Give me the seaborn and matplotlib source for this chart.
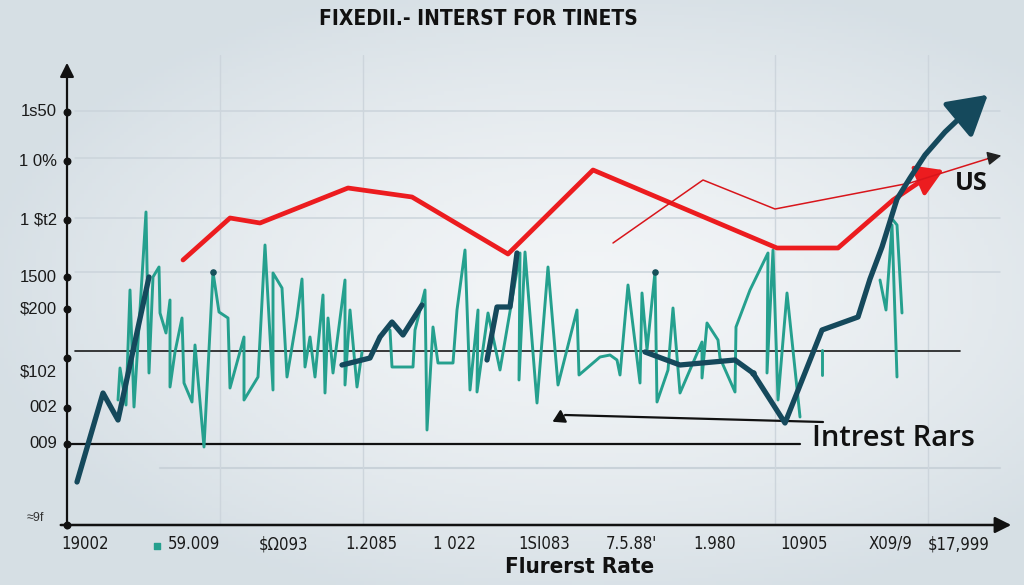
import numpy as np
import pandas as pd
import matplotlib
matplotlib.use('Agg')
import matplotlib.pyplot as plt
import seaborn as sns

# ---- data (x = period position, y = rate level) ----
teal_x = [118, 120, 126, 130, 134, 146, 149, 153, 159, 160, 166, 170, 170, 175, 182, 184, 192, 195,
          204, 213, 219, 228, 230, 244, 244, 258, 265, 273, 273, 282, 287, 297, 302, 305, 310, 315,
          323, 325, 328, 333, 345, 345, 350, 357, 362,
          390, 392, 413, 415, 425, 427, 433, 438, 453, 457, 465, 470, 478, 477, 488, 500, 520, 519,
          525, 537, 548, 558, 577, 579, 600, 610, 617, 620, 628, 640, 642, 647, 655, 657, 668, 673,
          680, 702, 702, 707, 718, 720, 735, 736, 750, 768, 767, 773, 778, 787, 800,
          822, 822,
          880, 886, 892, 897,
          893, 897, 902]
teal_y = [125, 157, 120, 235, 118, 313, 152, 248, 258, 212, 192, 225, 138, 173, 207, 142, 123, 180,
          78, 253, 213, 207, 137, 188, 125, 148, 280, 135, 252, 237, 148, 208, 246, 158, 188, 148,
          230, 132, 207, 152, 245, 140, 215, 138, 173,
          195, 158, 158, 195, 235, 95, 198, 162, 162, 215, 275, 135, 215, 133, 212, 155, 272, 145,
          273, 122, 258, 140, 215, 150, 168, 170, 165, 150, 240, 142, 232, 175, 253, 123, 155, 217,
          132, 183, 147, 202, 185, 167, 133, 198, 235, 272, 152, 275, 125, 232, 108,
          175, 150,
          245, 215, 300, 148,
          305, 300, 212]
teal_seg = [0] * 45 + [1] * 51 + [2] * 2 + [3] * 4 + [4] * 3

navy_x = [77, 103, 118, 149,
          342, 370, 380, 392, 403, 422,
          487, 497, 510, 517,
          645, 680, 735, 753, 785, 822, 858, 870, 882, 897, 910, 925, 945, 965, 980]
navy_y = [43, 132, 105, 248,
          160, 167, 188, 203, 190, 220,
          165, 218, 218, 272,
          173, 160, 165, 152, 102, 195, 208, 246, 278, 326, 347, 370, 393, 412, 423]
navy_seg = [0] * 4 + [1] * 6 + [2] * 4 + [3] * 15

red_x = [183, 230, 260, 348, 412, 508, 593, 777, 838, 893, 927]
red_y = [265, 307, 302, 337, 328, 271, 355, 277, 277, 325, 348]

thin_x = [613, 703, 775, 910, 990]
thin_y = [282, 345, 316, 342, 367]

ytick_pos = [413, 364, 305, 248, 216, 167, 117, 81]
ytick_lab = ['1s50', '1 0%', '1 \\$t2', '1500', '\\$200', '\\$102', '002', '009']
xtick_pos = [85, 194, 284, 371, 454, 544, 631, 715, 804, 890, 959]
xtick_lab = ['19002', '59.009', '\\$Ω093', '1.2085', '1 022', '1SI083', '7.5.88\'',
             '1.980', '10905', 'X09/9', '\\$17,999']
grid_h = [414, 367, 307, 253, 57]
grid_v = [220, 363, 775, 928]

NAVY = '#15495c'
TEAL = '#25a08e'
RED = '#ec1c1f'

sns.set_theme(style='white')
plt.rcParams['font.family'] = ['Liberation Sans', 'DejaVu Sans']

W, H = 1024, 585
fig = plt.figure(figsize=(W / 100, H / 100), dpi=100)

# soft grey-blue background
bg = fig.add_axes([0, 0, 1, 1], zorder=-10)
gx, gy = np.meshgrid(np.linspace(-1, 1, 256), np.linspace(-1, 1, 160))
r = np.sqrt(((gx - 0.15) / 1.2) ** 2 + (gy / 1.1) ** 2)
c0 = np.array([0.950, 0.960, 0.968])
c1 = np.array([0.840, 0.875, 0.898])
img = c0 + (c1 - c0) * np.clip(r, 0, 1)[..., None] ** 1.5
bg.imshow(img, aspect='auto', extent=[0, 1, 0, 1])
bg.axis('off')

x0, x1 = 67, 1012
ax = fig.add_axes([x0 / W, (H - 525) / H, (x1 - x0) / W, 470 / H])
ax.set_xlim(x0, x1)
ax.set_ylim(0, 470)
ax.patch.set_alpha(0)
for s in ax.spines.values():
    s.set_visible(False)
ax.set_xticks([])
ax.set_yticks([])

# grid
for g in grid_h[:-1]:
    ax.plot([75, 1000], [g, g], color='#cbd4db', lw=1.1, zorder=0)
ax.plot([160, 1000], [grid_h[-1], grid_h[-1]], color='#c9d2d9', lw=1.5, zorder=0)
for g in grid_v:
    ax.plot([g, g], [0, 470], color='#cdd5dc', lw=1.0, zorder=0)

# black reference lines
ax.plot([75, 960], [174, 174], color='#1a1a1a', lw=1.2, zorder=2)
ax.plot([60, 800], [81, 81], color='#111111', lw=1.6, zorder=2)
ax.plot([823, 565], [103, 110], color='#111111', lw=1.6, zorder=2)
ax.annotate('', xy=(550, 102), xytext=(566, 110),
            arrowprops=dict(arrowstyle='-|>,head_length=0.5,head_width=0.3', color='#111111',
                            lw=1.6, mutation_scale=14))

# series
teal = pd.DataFrame({'x': teal_x, 'y': teal_y, 'seg': teal_seg})
sns.lineplot(data=teal, x='x', y='y', units='seg', estimator=None, sort=False,
             color=TEAL, lw=2.1, ax=ax, zorder=3)
ax.scatter([213, 655, 753], [253, 253, 152], s=14, color='#16505a', zorder=4)

red = pd.DataFrame({'x': red_x, 'y': red_y})
sns.lineplot(data=red, x='x', y='y', sort=False, color=RED, lw=3.4, ax=ax, zorder=4)
ax.annotate('', xy=(946, 356), xytext=(925, 347),
            arrowprops=dict(arrowstyle='-|>,head_length=0.9,head_width=0.55', color=RED,
                            lw=3, mutation_scale=18), zorder=4)

thin = pd.DataFrame({'x': thin_x, 'y': thin_y})
sns.lineplot(data=thin, x='x', y='y', sort=False, color='#d8151b', lw=1.1, ax=ax, zorder=4)
ax.annotate('', xy=(1004, 370), xytext=(985, 366),
            arrowprops=dict(arrowstyle='-|>,head_length=0.6,head_width=0.3', color='#222222',
                            lw=1.0, mutation_scale=14), zorder=4)

navy = pd.DataFrame({'x': navy_x, 'y': navy_y, 'seg': navy_seg})
sns.lineplot(data=navy, x='x', y='y', units='seg', estimator=None, sort=False,
             color=NAVY, lw=3.8, ax=ax, zorder=5)
ax.annotate('', xy=(990, 432), xytext=(972, 417),
            arrowprops=dict(arrowstyle='-|>,head_length=1.2,head_width=0.7', color=NAVY,
                            lw=3.6, mutation_scale=20), zorder=5)
ax.set_xlabel('')
ax.set_ylabel('')

# axes with arrows
ax.annotate('', xy=(67, 465), xytext=(67, -6), annotation_clip=False,
            arrowprops=dict(arrowstyle='-|>,head_length=0.6,head_width=0.3', color='#111111',
                            lw=1.6, mutation_scale=14))
ax.annotate('', xy=(1014, 0), xytext=(58, 0), annotation_clip=False,
            arrowprops=dict(arrowstyle='-|>,head_length=0.7,head_width=0.35', color='#111111',
                            lw=1.8, mutation_scale=14))
ax.scatter([67] * len(ytick_pos) + [67], ytick_pos + [0], s=22, color='#111111',
           clip_on=False, zorder=6)

for i, (p, lab) in enumerate(zip(ytick_pos, ytick_lab)):
    yy = p - 14 if i == 5 else p
    ax.text(57, yy, lab, ha='right', va='center', fontsize=12, color='#1a1a1a', clip_on=False)
ax.text(35, 7, '≈9f', ha='center', va='center', fontsize=9, color='#333333', clip_on=False)

for p, lab in zip(xtick_pos, xtick_lab):
    ax.text(p, -19, lab, ha='center', va='center', fontsize=12, color='#1a1a1a',
            family=['DejaVu Sans'], fontstretch='condensed', clip_on=False)
ax.scatter([157], [-21], s=14, marker='s', color=TEAL, clip_on=False)

ax.text(812, 86, 'Intrest Rars', ha='left', va='center', fontsize=21, color='#111111',
        family=['Open Sans', 'DejaVu Sans'], fontweight='semibold')
ax.text(955, 341, 'US', ha='left', va='center', fontsize=18, color='#111111',
        family=['Open Sans', 'DejaVu Sans'], fontweight='bold')

fig.text(478 / W, 1 - 19 / H, 'FIXEDII.- INTERST FOR TINETS', ha='center', va='center',
         fontsize=15, fontweight='bold', color='#111111',
         family=['DejaVu Sans'], fontstretch='condensed')
fig.text(580 / W, 1 - 567 / H, 'Flurerst Rate', ha='center', va='center', fontsize=16,
         fontweight='bold', color='#111111', family=['DejaVu Sans'], fontstretch='condensed')

fig.savefig('out.png', dpi=100)
